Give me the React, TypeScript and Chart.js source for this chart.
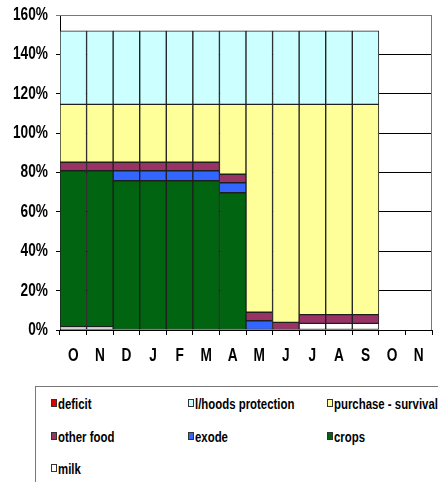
import React, { useEffect, useRef } from "react";
import { Chart, registerables } from "chart.js";

Chart.register(...registerables);

const categories = ["O", "N", "D", "J", "F", "M", "A", "M", "J", "J", "A", "S", "O", "N"];
const milk = [1.7, 1.7, null, null, null, null, null, null, null, 3.4, 3.4, 3.4, null, null];
const crops = [79.2, 79.2, 75.8, 75.8, 75.8, 75.8, 69.7, null, null, null, null, null, null, null];
const exode = [null, null, 5.1, 5.1, 5.1, 5.1, 5.1, 4.7, null, null, null, null, null, null];
const otherFood = [4.3, 4.3, 4.3, 4.3, 4.3, 4.3, 4.3, 4.3, 3.9, 4.4, 4.4, 4.4, null, null];
const purchaseSurvival = [29.4, 29.4, 29.4, 29.4, 29.4, 29.4, 35.5, 105.6, 110.7, 106.8, 106.8, 106.8, null, null];
const lhoodsProtection = [37.3, 37.3, 37.3, 37.3, 37.3, 37.3, 37.3, 37.3, 37.3, 37.3, 37.3, 37.3, null, null];
const deficit = [null, null, null, null, null, null, null, null, null, null, null, null, null, null];
const yTicks = [0, 20, 40, 60, 80, 100, 120, 140, 160];

const FONT = "'Liberation Sans', Arial, sans-serif";
const NARROW = 0.76;

const series = [
  { label: "milk", data: milk, color: "#FFFFFF" },
  { label: "crops", data: crops, color: "#006411" },
  { label: "exode", data: exode, color: "#3366FF" },
  { label: "other food", data: otherFood, color: "#993366" },
  { label: "purchase - survival", data: purchaseSurvival, color: "#FFFF99" },
  { label: "l/hoods protection", data: lhoodsProtection, color: "#CCFFFF" },
  { label: "deficit", data: deficit, color: "#DD0000" },
];

const legendOrder = ["deficit", "l/hoods protection", "purchase - survival", "other food", "exode", "crops", "milk"];
const legendCols = [51, 188, 327];
const legendRows = [403, 436, 468];

const plotBorder = {
  id: "plotBorder",
  beforeDatasetsDraw(chart: any) {
    const { ctx, chartArea } = chart;
    ctx.save();
    ctx.strokeStyle = "#777777";
    ctx.lineWidth = 1;
    ctx.beginPath();
    ctx.moveTo(chartArea.left, chartArea.top + 0.5);
    ctx.lineTo(chartArea.right - 0.5, chartArea.top + 0.5);
    ctx.lineTo(chartArea.right - 0.5, chartArea.bottom);
    ctx.stroke();
    ctx.restore();
  },
};

// draws the axis labels in a condensed (horizontally narrowed) bold face
const narrowLabels = {
  id: "narrowLabels",
  afterDraw(chart: any) {
    const { ctx } = chart;
    const xs = chart.scales.x;
    const ys = chart.scales.y;
    ctx.save();
    ctx.fillStyle = "#000000";
    ctx.font = "bold 18px " + FONT;
    ctx.textBaseline = "middle";
    ctx.textAlign = "center";
    const xLabelY = chart.chartArea.bottom + 26.5;
    categories.forEach((c, i) => {
      const x = xs.getPixelForValue(i);
      ctx.save();
      ctx.translate(x, xLabelY);
      ctx.scale(NARROW, 1);
      ctx.fillText(c, 0, 0);
      ctx.restore();
    });
    ctx.textAlign = "right";
    yTicks.forEach((v) => {
      const y = ys.getPixelForValue(v);
      ctx.save();
      ctx.translate(ys.right - 12, y);
      ctx.scale(NARROW, 1);
      ctx.fillText(v + "%", 0, 0);
      ctx.restore();
    });
    ctx.restore();
  },
};

export default function App() {
  const ref = useRef<HTMLCanvasElement>(null);
  useEffect(() => {
    if (!ref.current) return;
    const chart = new Chart(ref.current, {
      type: "bar",
      data: {
        labels: categories,
        datasets: series.map((s) => ({
          label: s.label,
          data: s.data as any,
          backgroundColor: s.color,
          borderColor: "#1f1f1f",
          borderWidth: 1,
          borderSkipped: false,
          barPercentage: 1,
          categoryPercentage: 1,
        })),
      },
      options: {
        animation: false,
        responsive: false,
        layout: { padding: { left: 0, right: 6, top: 15, bottom: 0 } },
        plugins: { legend: { display: false }, tooltip: { enabled: false } },
        scales: {
          x: {
            stacked: true,
            grid: { drawOnChartArea: false, drawTicks: true, tickLength: 5, color: "#000000", offset: true },
            border: { color: "#000000", width: 1 },
            ticks: { display: false, autoSkip: false },
            afterFit: (s: any) => { s.height = 45; },
          },
          y: {
            stacked: true,
            min: 0,
            max: 160,
            afterBuildTicks: (s: any) => { s.ticks = yTicks.map((v) => ({ value: v })); },
            grid: {
              color: (c: any) => (c.tick && c.tick.value === 160 ? "#777777" : "#000000"),
              tickLength: 4,
            },
            border: { color: "#000000", width: 1 },
            ticks: { display: false },
            afterFit: (s: any) => { s.width = 60; },
          },
        },
      },
      plugins: [plotBorder, narrowLabels],
    } as any);
    return () => chart.destroy();
  }, []);

  return (
    <div style={{ position: "absolute", left: 0, top: 0, width: 438, height: 482, overflow: "hidden", background: "#fff" }}>
      <canvas ref={ref} width={438} height={375} style={{ display: "block", position: "absolute", left: 0, top: 0 }} />
      <div style={{ position: "absolute", left: 35, top: 386, width: 440, height: 140, border: "1px solid #777", boxSizing: "border-box" }} />
      {legendOrder.map((name, i) => {
        const s = series.find((x) => x.label === name)!;
        const col = i % 3;
        const row = Math.floor(i / 3);
        return (
          <div key={name} style={{ position: "absolute", left: legendCols[col], top: legendRows[row] - 10, height: 20, display: "flex", alignItems: "center", fontFamily: FONT, fontWeight: "bold", fontSize: 15, color: "#000", whiteSpace: "nowrap" }}>
            <span style={{ display: "inline-block", width: 6, height: 8, background: s.color, border: "1px solid #333", boxSizing: "border-box", marginRight: 1 }} />
            <span style={{ display: "inline-block", transform: "scaleX(" + NARROW + ")", transformOrigin: "left center" }}>{name}</span>
          </div>
        );
      })}
    </div>
  );
}
